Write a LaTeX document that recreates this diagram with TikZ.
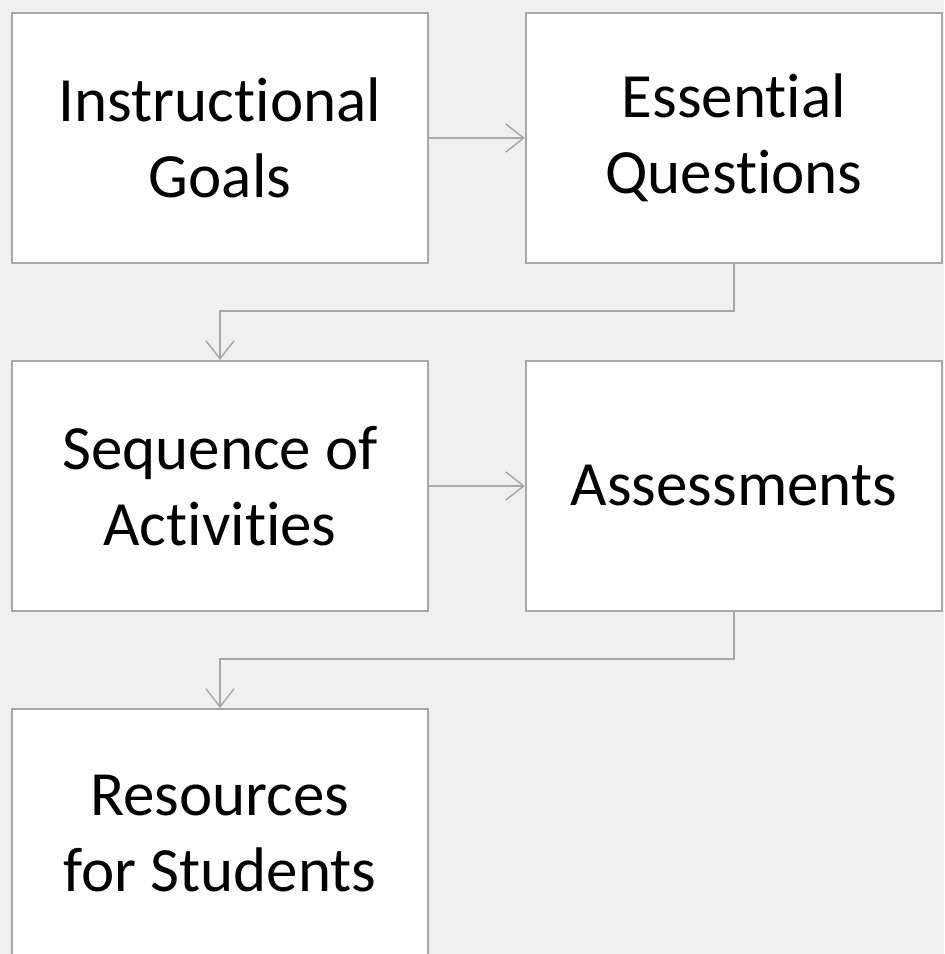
\documentclass[tikz,border=0pt]{standalone}
\usepackage{fontspec}
\setmainfont{Carlito}[Ligatures=NoCommon]
\usetikzlibrary{arrows.meta,positioning}
\definecolor{bggray}{HTML}{F0F0F0}
\definecolor{linegray}{HTML}{A8A8A8}

\begin{document}
\begin{tikzpicture}[x=0.5pt,y=-0.5pt,
  stepbox/.style={draw=linegray,line width=1pt,fill=white,
    minimum width=208pt,minimum height=125pt,inner sep=0pt,
    align=center,font=\fontsize{31.5}{38}\selectfont},
  link/.style={draw=linegray,line width=0.75pt,
    -{Straight Barb[length=9pt,width=14pt]}}]

\fill[bggray] (0,0) rectangle (944,954);
\useasboundingbox (0,0) rectangle (944,954);

% boxes
\node[stepbox] (goals) at (220,138) {Instructional\\Goals};
\node[stepbox] (questions) at (734,138) {Essential\\Questions};
\node[stepbox] (activities) at (220,486) {Sequence of\\Activities};
\node[stepbox] (assess) at (734,486) {Assessments};
\node[stepbox] (resources) at (220,834) {Resources\\for Students};

% arrows
\draw[link] (goals) -- (questions);
\draw[link] (questions.south) -- ++(0,47) -| (activities.north);
\draw[link] (activities) -- (assess);
\draw[link] (assess.south) -- ++(0,47) -| (resources.north);

\end{tikzpicture}
\end{document}
